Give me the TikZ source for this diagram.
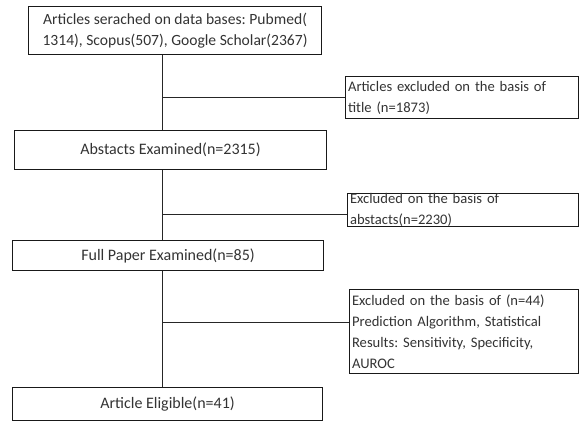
\documentclass[tikz,border=0pt]{standalone}
\usepackage{fontspec}
\setmainfont{Carlito}
\frenchspacing
\begin{document}
\begin{tikzpicture}[x=1pt,y=-1pt,
  box/.style={draw=black!90, line width=1.1pt, anchor=north west, inner sep=0pt, text=black!80},
  cbox/.style={box, align=center, font=\fontsize{16}{21}\selectfont},
  lbox/.style={box, align=left, inner xsep=2.5pt, font=\fontsize{14.6}{21}\selectfont},
  conn/.style={draw=black!85, line width=0.9pt}]
\useasboundingbox (0,0) rectangle (579,421);
% main boxes
\node[cbox, font=\fontsize{15.6}{21}\selectfont, minimum width=293pt, minimum height=48pt] (b1) at (28,6)
  {Articles serached on data bases: Pubmed(\\1314), Scopus(507), Google Scholar(2367)};
\node[cbox, minimum width=312pt, minimum height=39pt] (b2) at (14,130)
  {Abstacts Examined(n=2315)};
\node[cbox, minimum width=311pt, minimum height=30pt] (b3) at (12,240)
  {Full Paper Examined(n=85)};
\node[cbox, minimum width=310pt, minimum height=33pt] (b4) at (12,387)
  {Article Eligible(n=41)};
% side boxes
\node[lbox, text width=228pt, minimum height=42pt] (xa) at (345,76)
  {Articles excluded on the basis of\\title (n=1873)};
\node[lbox, text width=226pt, minimum height=33pt] (xb) at (347,193)
  {Excluded on the basis of\\abstacts(n=2230)};
\node[lbox, text width=224pt, minimum height=84pt] (xc) at (349,289)
  {Excluded on the basis of (n=44)\\Prediction Algorithm, Statistical\\Results: Sensitivity, Specificity,\\AUROC};
% spine coordinates
\coordinate (j1) at (162,97);
\coordinate (j2) at (162,214);
\coordinate (j3) at (162,322);
% connectors
\draw[conn] (j1 |- b1.south) -- (j1 |- b2.north);
\draw[conn] (j2 |- b2.south) -- (j2 |- b3.north);
\draw[conn] (j3 |- b3.south) -- (j3 |- b4.north);
\draw[conn] (j1) -- (j1 -| xa.west);
\draw[conn] (j2) -- (j2 -| xb.west);
\draw[conn] (j3) -- (j3 -| xc.west);
\end{tikzpicture}
\end{document}
